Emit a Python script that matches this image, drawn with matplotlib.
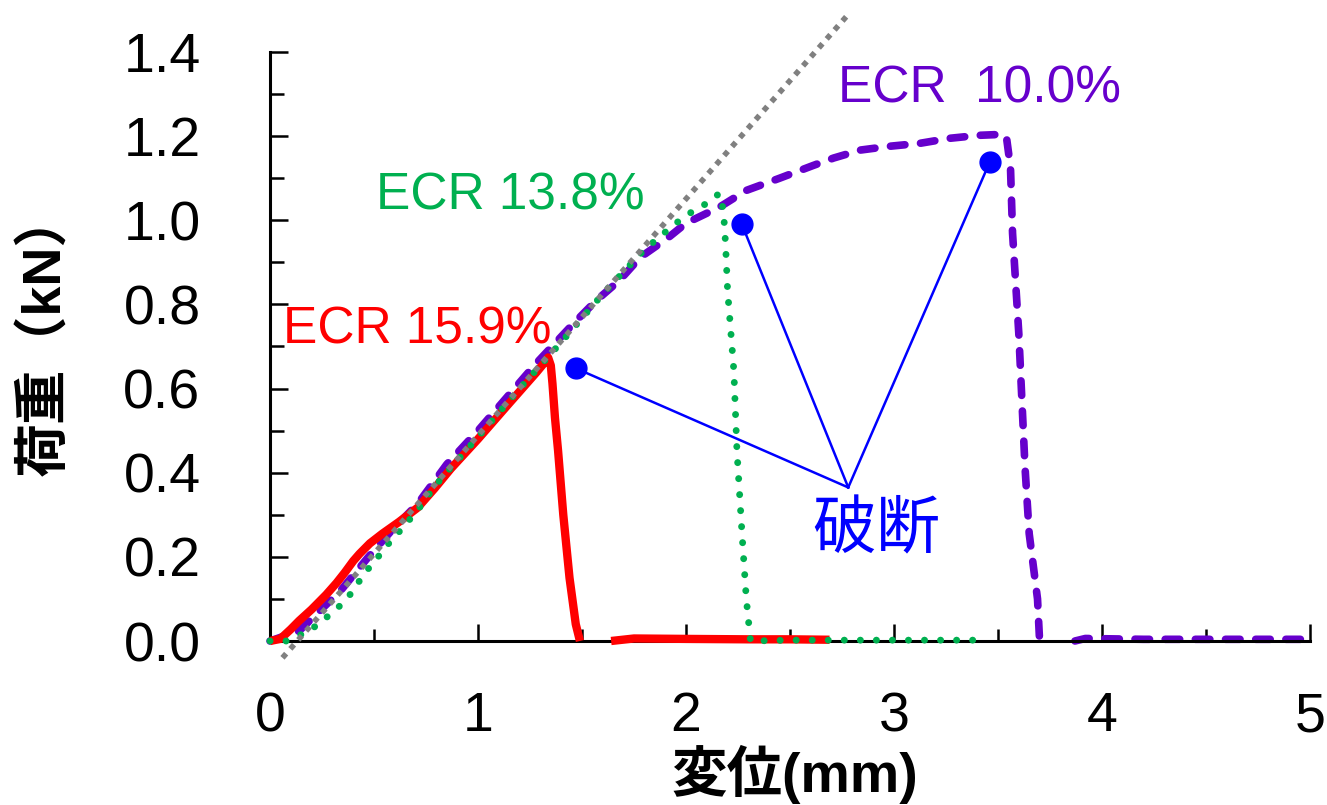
import numpy as np
import matplotlib
matplotlib.use('Agg')
import matplotlib.pyplot as plt
from matplotlib.ticker import MultipleLocator

plt.rcParams['font.family'] = ['Liberation Sans', 'Noto Sans CJK JP']

# load-displacement curves (mm, kN); nan splits the trace where the signal drops out
ecr159_x = [0.0, 0.05, 0.10, 0.14, 0.20, 0.27, 0.32, 0.36, 0.40, 0.43, 0.48, 0.54, 0.62, 0.71,
            0.79, 0.87, 1.0, 1.15, 1.28, 1.32, 1.337,
            1.350, 1.358, 1.37, 1.385, 1.41, 1.44, 1.47, 1.49,
            np.nan, 1.64, 1.75, 2.0, 2.3, 2.5, 2.69]
ecr159_y = [0.0, 0.005, 0.028, 0.048, 0.075, 0.11, 0.138, 0.163, 0.19, 0.207, 0.232, 0.255, 0.283, 0.317,
            0.362, 0.41, 0.48, 0.565, 0.638, 0.662, 0.674,
            0.655, 0.612, 0.531, 0.452, 0.30, 0.15, 0.04, 0.0,
            np.nan, 0.0, 0.006, 0.005, 0.004, 0.004, 0.003]

ecr138_x = [0.0, 0.08, 0.19, 0.25, 0.30, 0.36, 0.41, 0.45, 0.50, 0.54, 0.59, 0.64, 0.69,
            0.74, 0.78, 0.83, 1.0, 1.2, 1.4, 1.6, 1.8, 1.91, 1.97, 2.04, 2.11, 2.16,
            2.18, 2.19, 2.20, 2.23, 2.245, 2.27, 2.29, 2.31, 2.5, 3.0, 3.41]
ecr138_y = [0.0, 0.0, 0.024, 0.048, 0.067, 0.095, 0.126, 0.16, 0.186, 0.214, 0.243, 0.27, 0.30,
            0.33, 0.36, 0.39, 0.485, 0.60, 0.71, 0.825, 0.93, 0.976, 1.0, 1.024, 1.043, 1.064,
            1.024, 0.945, 0.833, 0.643, 0.452, 0.25, 0.10, 0.0, 0.002, 0.002, 0.002]

ecr100_x = [0.0, 0.14, 0.34, 0.47, 0.58, 0.71, 0.85, 1.0, 1.28, 1.46, 1.57, 1.68, 1.78,
            1.91, 2.0, 2.16, 2.29, 2.45, 2.61, 2.71, 2.84, 2.98, 3.125, 3.27, 3.41, 3.51,
            3.54, 3.56, 3.57, 3.60, 3.615, 3.63, 3.65, 3.69, 3.70,
            np.nan, 3.87, 3.92, 4.2, 4.6, 5.0]
ecr100_y = [0.0, 0.024, 0.12, 0.198, 0.26, 0.326, 0.42, 0.50, 0.66, 0.755, 0.81, 0.857, 0.912,
            0.957, 0.993, 1.031, 1.071, 1.10, 1.13, 1.148, 1.167, 1.176, 1.183, 1.195, 1.202, 1.204,
            1.20, 1.126, 0.969, 0.731, 0.571, 0.412, 0.255, 0.10, 0.0,
            np.nan, 0.0, 0.006, 0.004, 0.004, 0.004]

# initial stiffness line
slope_x = [0.06, 2.79]
slope_y = [-0.04, 1.495]

# fracture points and the common label anchor
break_x = [1.471, 2.269, 3.46]
break_y = [0.648, 0.99, 1.138]
anchor = (2.78, 0.365)

fig = plt.figure(figsize=(13.27, 8.05), dpi=100)
ax = fig.add_axes([270/1327, 1-641/805, 1040/1327, 589/805])

purple, red, green = '#6600CC', '#FF0000', '#00B050'

l1, = ax.plot(ecr100_x, ecr100_y, color=purple, lw=5.5, dash_capstyle='round',
              clip_on=False, zorder=2)
l1.set_dashes((1.9, 2.05))
ax.plot(ecr159_x, ecr159_y, color=red, lw=6, solid_capstyle='butt', solid_joinstyle='round',
        clip_on=False, zorder=3)
l3, = ax.plot(ecr138_x, ecr138_y, color=green, lw=5, dash_capstyle='round',
              clip_on=False, zorder=4)
l3.set_dashes((0.01, 2.3))
l4, = ax.plot(slope_x, slope_y, color='#808080', lw=4, dash_capstyle='butt',
              clip_on=False, zorder=5)
l4.set_dashes((1, 1.15))

for bx, by in zip(break_x, break_y):
    ax.plot([bx, anchor[0]], [by, anchor[1]], color='#0000FF', lw=1.8, zorder=6)
ax.plot(break_x, break_y, 'o', color='#0000FF', ms=15, zorder=7)

ax.text(0.707, 0.707, 'ECR 15.9%', color=red, fontsize=37, ha='center', va='baseline')
ax.text(1.154, 1.026, 'ECR 13.8%', color=green, fontsize=37, ha='center', va='baseline')
ax.text(3.411, 1.279, 'ECR  10.0%', color=purple, fontsize=37, ha='center', va='baseline')
ax.text(2.913, 0.264, '破断', color='#0000FF', fontsize=46, ha='center', va='center',
        family=['Noto Sans CJK JP'])

ax.set_xlim(0, 5)
ax.set_ylim(0, 1.4)
ax.xaxis.set_major_locator(MultipleLocator(1))
ax.xaxis.set_minor_locator(MultipleLocator(0.5))
ax.yaxis.set_major_locator(MultipleLocator(0.2))
ax.yaxis.set_minor_locator(MultipleLocator(0.1))
ax.yaxis.set_major_formatter(lambda v, p: f'{v:.1f}')

for s in ['top', 'right']:
    ax.spines[s].set_visible(False)
for s in ['left', 'bottom']:
    ax.spines[s].set_linewidth(2.2)

ax.tick_params(axis='both', which='both', direction='in', width=1.8, labelsize=40)
ax.tick_params(axis='x', which='major', length=12, pad=36)
ax.tick_params(axis='x', which='minor', length=9)
ax.tick_params(axis='y', which='major', length=13, pad=50)
ax.tick_params(axis='y', which='minor', length=10)

ax.set_xlabel('変位(mm)', fontsize=40, fontweight='bold', va='center')
ax.xaxis.set_label_coords(0.505, -0.227)
ax.set_ylabel('荷重（kN）', fontsize=39, fontweight='bold', va='center')
ax.yaxis.set_label_coords(-0.216, 0.522)

fig.savefig('out.png', dpi=100)
